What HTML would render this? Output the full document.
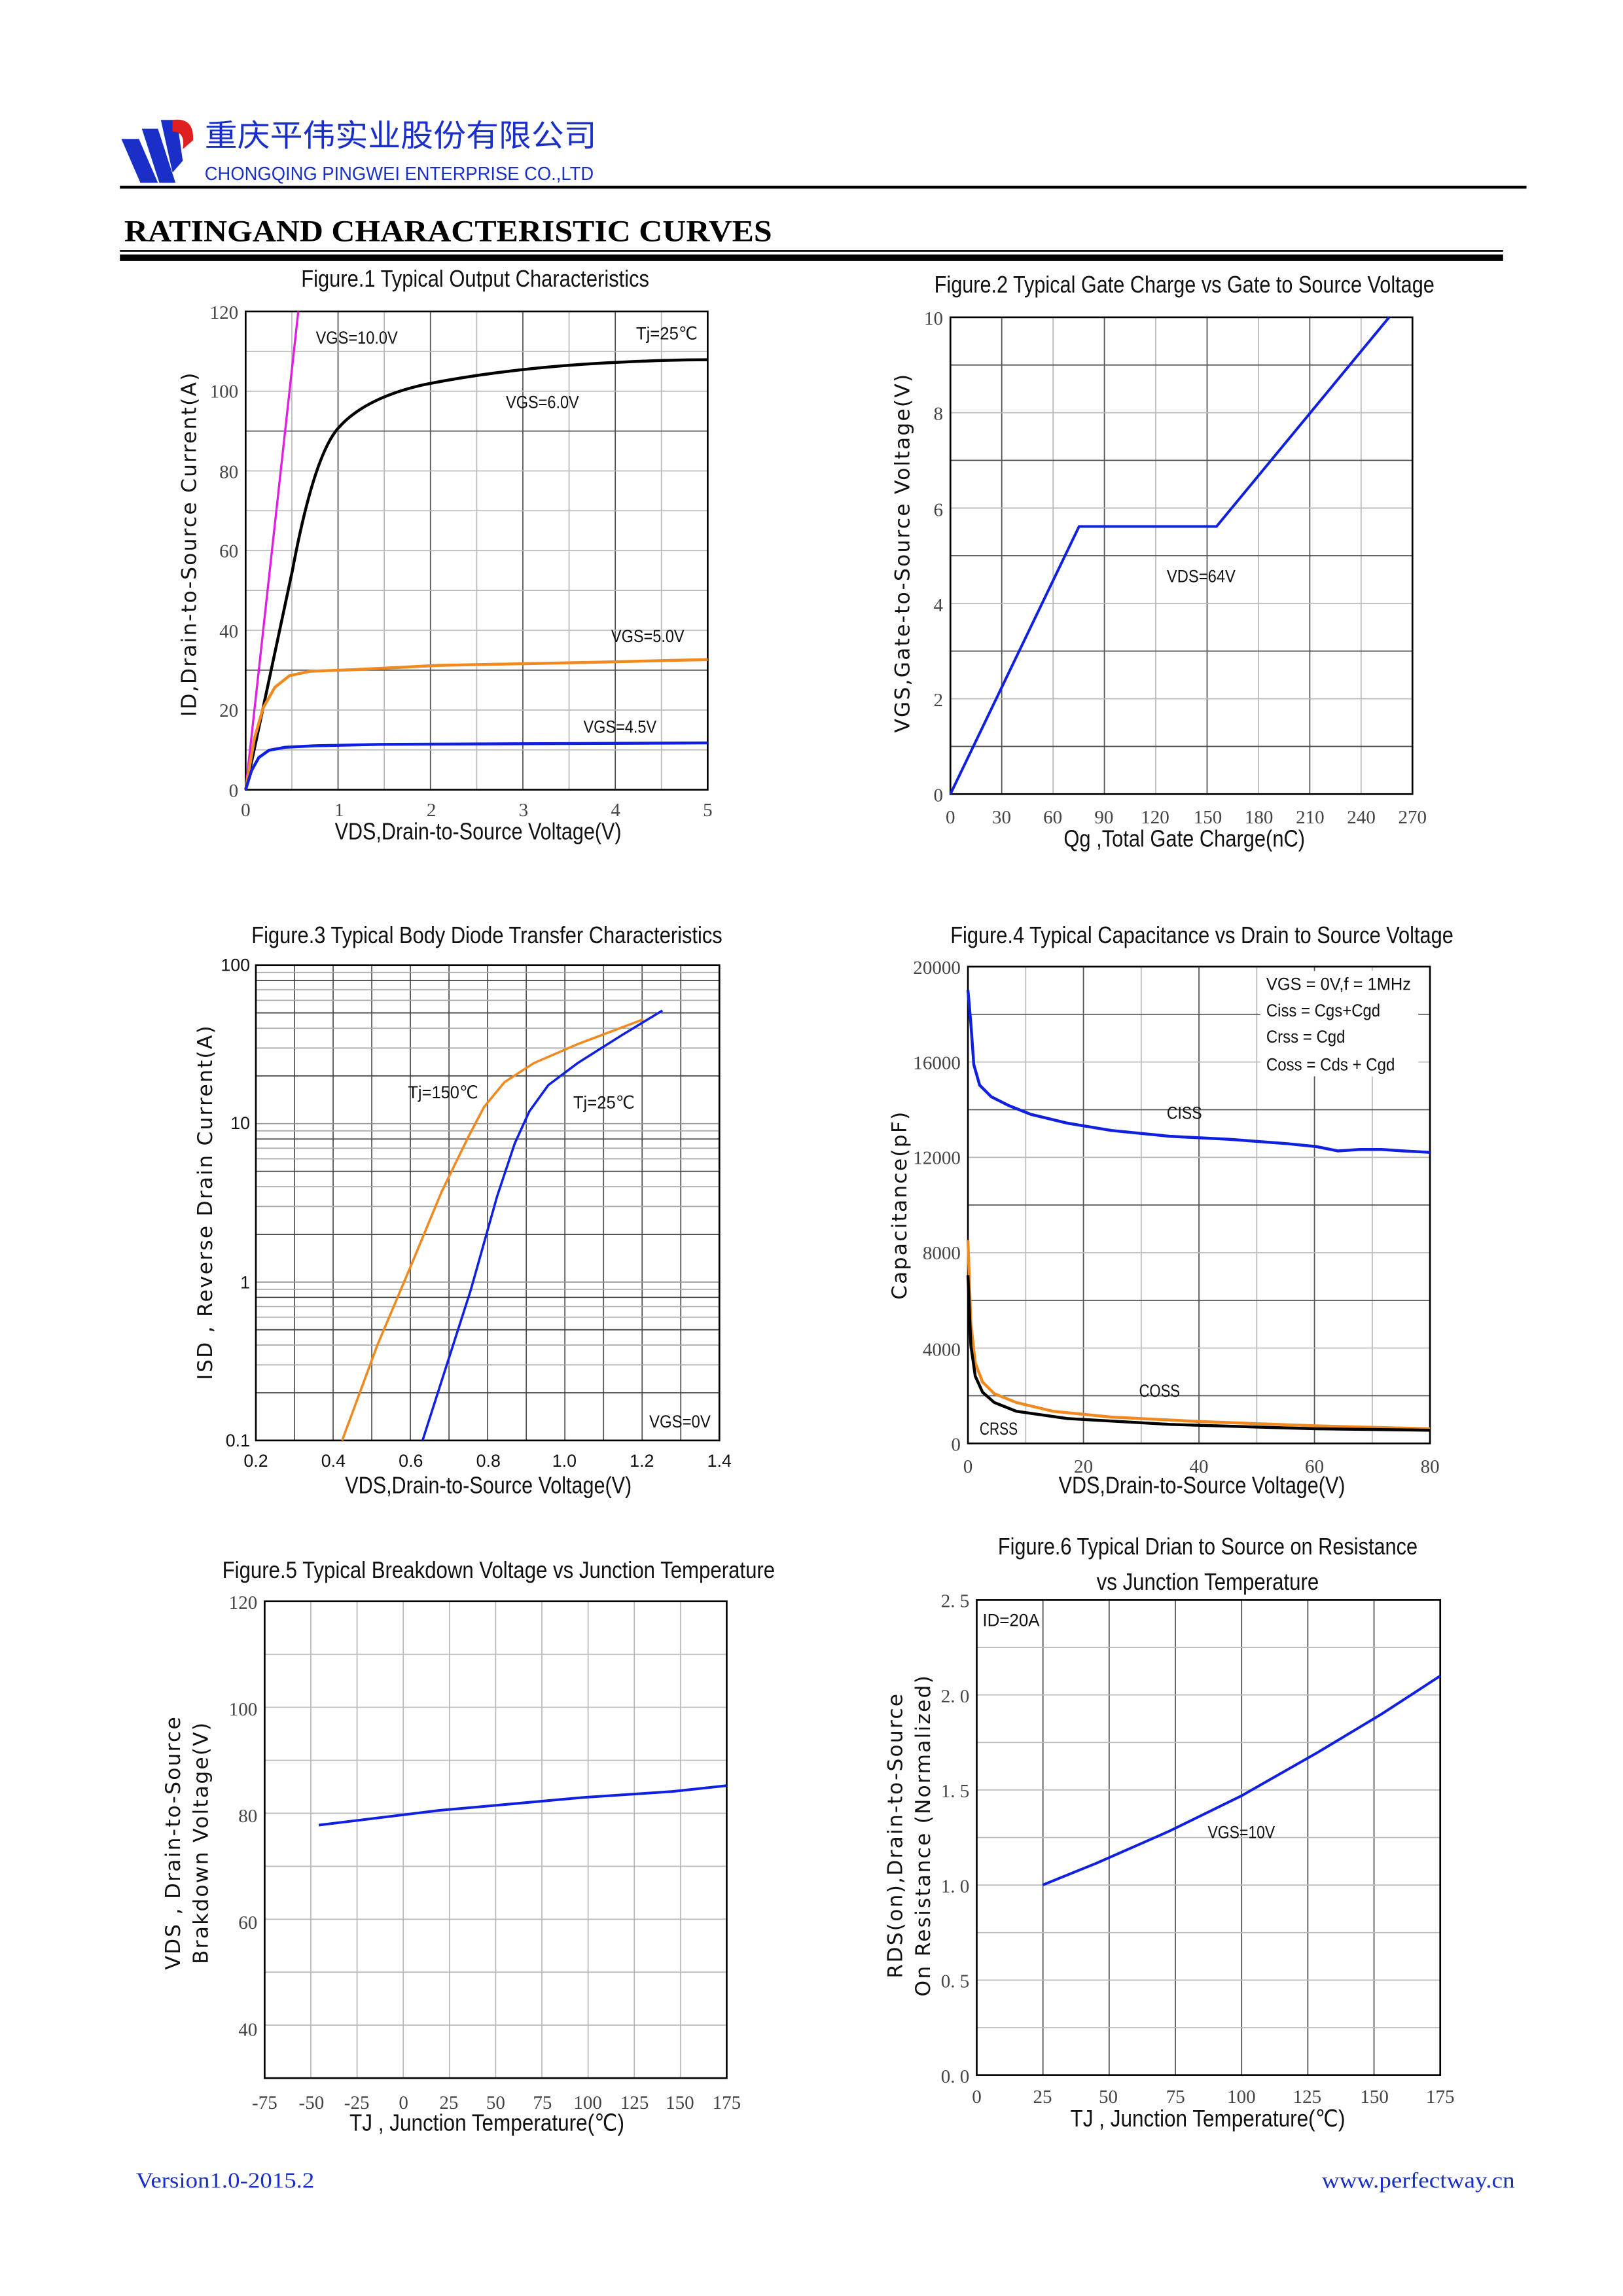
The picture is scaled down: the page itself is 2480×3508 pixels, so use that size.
<!DOCTYPE html>
<html><head><meta charset="utf-8"><style>
html,body{margin:0;padding:0;background:#fff}
svg{display:block}
.t{font-family:"Liberation Sans",sans-serif;fill:#111}
.s{font-family:"Liberation Serif",serif;fill:#444}
.a{font-family:"DejaVu Sans",sans-serif;fill:#111;letter-spacing:1px}
</style></head><body>
<svg id="s" width="2480" height="3508" viewBox="0 0 1110 1570" preserveAspectRatio="none" xmlns="http://www.w3.org/2000/svg">
<rect width="1110" height="1570" fill="#fff"/>
<!-- logo -->
<polygon points="83,95 95,95 108,125 96,125" fill="#1a2fc8"/>
<polygon points="97,88 108,88 120,125 109,125" fill="#1a2fc8"/>
<polygon points="110,82 121,82 125,110 118,118" fill="#1a2fc8"/>
<path d="M118,82 Q133,80 132,96 L125,102 Q127,90 118,90 Z" fill="#e02020"/>
<text x="140" y="100" font-family="'Noto Sans CJK SC',sans-serif" font-size="21" fill="#1a2fc8" textLength="268" lengthAdjust="spacingAndGlyphs">重庆平伟实业股份有限公司</text>
<text x="140" y="123" class="t" font-size="13" style="fill:#1a2fc8" textLength="266" lengthAdjust="spacingAndGlyphs">CHONGQING PINGWEI ENTERPRISE CO.,LTD</text>
<rect x="82" y="127" width="962" height="2" fill="#000"/>
<text x="85" y="165" font-family="'Liberation Serif',serif" font-weight="bold" font-size="21" fill="#000" textLength="443" lengthAdjust="spacingAndGlyphs">RATINGAND CHARACTERISTIC CURVES</text>
<rect x="82" y="171" width="946" height="1.2" fill="#000"/>
<rect x="82" y="174" width="946" height="4.5" fill="#000"/>
<g id="grids"></g>
<!-- Fig1 -->
<text x="325" y="196" class="t" font-size="16" text-anchor="middle" textLength="238" lengthAdjust="spacingAndGlyphs">Figure.1 Typical Output Characteristics</text>
<g class="s" font-size="13" text-anchor="end">
<text x="163" y="218">120</text><text x="163" y="272">100</text><text x="163" y="327">80</text><text x="163" y="381">60</text><text x="163" y="436">40</text><text x="163" y="490">20</text><text x="163" y="545">0</text></g>
<g class="s" font-size="13" text-anchor="middle">
<text x="168" y="558">0</text><text x="232" y="558">1</text><text x="295" y="558">2</text><text x="358" y="558">3</text><text x="421" y="558">4</text><text x="484" y="558">5</text></g>
<text x="327" y="574" class="t" font-size="16" text-anchor="middle" textLength="196" lengthAdjust="spacingAndGlyphs">VDS,Drain-to-Source Voltage(V)</text>
<text transform="translate(134,372) rotate(-90)" class="a" font-size="14" text-anchor="middle">ID,Drain-to-Source Current(A)</text>
<polyline points="168,540 204,213" fill="none" stroke="#e020e0" stroke-width="1.5"/>
<path d="M168,540 L200,390 Q215,310 232,292 Q250,272 290,263 Q340,253 400,249 Q450,246 484,246" fill="none" stroke="#000" stroke-width="2"/>
<polyline points="168,540 174,505 180,484 188,470 198,462 212,459 240,458 300,455 400,453 484,451" fill="none" stroke="#f08a20" stroke-width="2"/>
<polyline points="168,540 172,527 177,518 184,513 195,511 215,510 260,509 484,508" fill="none" stroke="#1020e0" stroke-width="2"/>
<g class="t" font-size="12">
<text x="216" y="235" textLength="56" lengthAdjust="spacingAndGlyphs">VGS=10.0V</text>
<text x="435" y="232" textLength="42" lengthAdjust="spacingAndGlyphs">Tj=25℃</text>
<text x="346" y="279" textLength="50" lengthAdjust="spacingAndGlyphs">VGS=6.0V</text>
<text x="418" y="439" textLength="50" lengthAdjust="spacingAndGlyphs">VGS=5.0V</text>
<text x="399" y="501" textLength="50" lengthAdjust="spacingAndGlyphs">VGS=4.5V</text></g>
<!-- Fig2 -->
<text x="810" y="200" class="t" font-size="16" text-anchor="middle" textLength="342" lengthAdjust="spacingAndGlyphs">Figure.2 Typical Gate Charge vs Gate to Source Voltage</text>
<g class="s" font-size="13" text-anchor="end">
<text x="645" y="222">10</text><text x="645" y="287">8</text><text x="645" y="353">6</text><text x="645" y="418">4</text><text x="645" y="483">2</text><text x="645" y="548">0</text></g>
<g class="s" font-size="13" text-anchor="middle">
<text x="650" y="563">0</text><text x="685" y="563">30</text><text x="720" y="563">60</text><text x="755" y="563">90</text><text x="790" y="563">120</text><text x="826" y="563">150</text><text x="861" y="563">180</text><text x="896" y="563">210</text><text x="931" y="563">240</text><text x="966" y="563">270</text></g>
<text x="810" y="579" class="t" font-size="16" text-anchor="middle" textLength="165" lengthAdjust="spacingAndGlyphs">Qg ,Total Gate Charge(nC)</text>
<text transform="translate(622,378) rotate(-90)" class="a" font-size="14" text-anchor="middle">VGS,Gate-to-Source Voltage(V)</text>
<polyline points="650,543 738,360 832,360 950,217" fill="none" stroke="#1020e0" stroke-width="1.8"/>
<text x="798" y="398" class="t" font-size="12" textLength="47" lengthAdjust="spacingAndGlyphs">VDS=64V</text>
<!-- Fig3 -->
<text x="333" y="645" class="t" font-size="16" text-anchor="middle" textLength="322" lengthAdjust="spacingAndGlyphs">Figure.3 Typical Body Diode Transfer Characteristics</text>
<g class="t" font-size="12" text-anchor="end">
<text x="171" y="664">100</text><text x="171" y="772">10</text><text x="171" y="881">1</text><text x="171" y="989">0.1</text></g>
<g class="t" font-size="12" text-anchor="middle">
<text x="175" y="1003">0.2</text><text x="228" y="1003">0.4</text><text x="281" y="1003">0.6</text><text x="334" y="1003">0.8</text><text x="386" y="1003">1.0</text><text x="439" y="1003">1.2</text><text x="492" y="1003">1.4</text></g>
<text x="334" y="1021" class="t" font-size="16" text-anchor="middle" textLength="196" lengthAdjust="spacingAndGlyphs">VDS,Drain-to-Source Voltage(V)</text>
<text transform="translate(145,822) rotate(-90)" class="a" font-size="14" text-anchor="middle" letter-spacing="2">ISD , Reverse Drain Current(A)</text>
<polyline points="234,985 258,920 280,868 302,815 320,778 331,757 345,740 365,727 395,714 440,697" fill="none" stroke="#f08a20" stroke-width="1.6"/>
<polyline points="289,985 305,935 322,882 340,818 352,782 362,760 375,742 395,727 425,708 453,691" fill="none" stroke="#1020e0" stroke-width="1.6"/>
<g class="t" font-size="12">
<text x="279" y="751" textLength="48" lengthAdjust="spacingAndGlyphs">Tj=150℃</text>
<text x="392" y="758" textLength="42" lengthAdjust="spacingAndGlyphs">Tj=25℃</text>
<text x="444" y="976" textLength="42" lengthAdjust="spacingAndGlyphs">VGS=0V</text></g>
<!-- Fig4 -->
<text x="822" y="645" class="t" font-size="16" text-anchor="middle" textLength="344" lengthAdjust="spacingAndGlyphs">Figure.4 Typical Capacitance vs Drain to Source Voltage</text>
<g class="s" font-size="13" text-anchor="end">
<text x="657" y="666">20000</text><text x="657" y="731">16000</text><text x="657" y="796">12000</text><text x="657" y="861">8000</text><text x="657" y="927">4000</text><text x="657" y="992">0</text></g>
<g class="s" font-size="13" text-anchor="middle">
<text x="662" y="1007">0</text><text x="741" y="1007">20</text><text x="820" y="1007">40</text><text x="899" y="1007">60</text><text x="978" y="1007">80</text></g>
<text x="822" y="1021" class="t" font-size="16" text-anchor="middle" textLength="196" lengthAdjust="spacingAndGlyphs">VDS,Drain-to-Source Voltage(V)</text>
<text transform="translate(620,824) rotate(-90)" class="a" font-size="14" text-anchor="middle" letter-spacing="2">Capacitance(pF)</text>
<polyline points="662,677 664,700 666,728 670,742 678,750 690,756 705,762 730,768 760,773 800,777 840,779 880,782 900,784 915,787 930,786 945,786 960,787 978,788" fill="none" stroke="#1020e0" stroke-width="2"/>
<polyline points="662,848 664,905 667,932 672,945 680,953 695,959 720,965 760,969 820,972 900,975 978,977" fill="none" stroke="#f08a20" stroke-width="2"/>
<polyline points="662,872 664,920 667,941 672,952 680,959 695,965 730,970 800,974 900,977 978,978" fill="none" stroke="#000" stroke-width="2"/>
<g class="t" font-size="12">
<rect x="862" y="664" width="108" height="72" fill="#fff"/>
<text x="866" y="677" textLength="99" lengthAdjust="spacingAndGlyphs">VGS  = 0V,f = 1MHz</text>
<text x="866" y="695" textLength="78" lengthAdjust="spacingAndGlyphs">Ciss = Cgs+Cgd</text>
<text x="866" y="713" textLength="54" lengthAdjust="spacingAndGlyphs">Crss = Cgd</text>
<text x="866" y="732" textLength="88" lengthAdjust="spacingAndGlyphs">Coss = Cds + Cgd</text>
<text x="798" y="765" textLength="24" lengthAdjust="spacingAndGlyphs">CISS</text>
<text x="779" y="955" textLength="28" lengthAdjust="spacingAndGlyphs">COSS</text>
<text x="670" y="981" textLength="26" lengthAdjust="spacingAndGlyphs">CRSS</text></g>
<!-- Fig5 -->
<text x="341" y="1079" class="t" font-size="16" text-anchor="middle" textLength="378" lengthAdjust="spacingAndGlyphs">Figure.5 Typical Breakdown Voltage vs Junction Temperature</text>
<g class="s" font-size="13" text-anchor="end">
<text x="176" y="1100">120</text><text x="176" y="1173">100</text><text x="176" y="1246">80</text><text x="176" y="1319">60</text><text x="176" y="1392">40</text></g>
<g class="s" font-size="13" text-anchor="middle">
<text x="181" y="1442">-75</text><text x="213" y="1442">-50</text><text x="244" y="1442">-25</text><text x="276" y="1442">0</text><text x="307" y="1442">25</text><text x="339" y="1442">50</text><text x="371" y="1442">75</text><text x="402" y="1442">100</text><text x="434" y="1442">125</text><text x="465" y="1442">150</text><text x="497" y="1442">175</text></g>
<text x="333" y="1457" class="t" font-size="16" text-anchor="middle" textLength="188" lengthAdjust="spacingAndGlyphs">TJ , Junction Temperature(℃)</text>
<text transform="translate(123,1260) rotate(-90)" class="a" font-size="14" text-anchor="middle">VDS , Drain-to-Source</text>
<text transform="translate(142,1260) rotate(-90)" class="a" font-size="14" text-anchor="middle">Brakdown Voltage(V)</text>
<polyline points="218,1248 300,1238 400,1229 460,1225 497,1221" fill="none" stroke="#1020e0" stroke-width="1.8"/>
<!-- Fig6 -->
<text x="826" y="1063" class="t" font-size="16" text-anchor="middle" textLength="287" lengthAdjust="spacingAndGlyphs">Figure.6 Typical Drian to Source on Resistance</text>
<text x="826" y="1087" class="t" font-size="16" text-anchor="middle" textLength="152" lengthAdjust="spacingAndGlyphs">vs Junction Temperature</text>
<g class="s" font-size="13" text-anchor="end">
<text x="663" y="1099">2. 5</text><text x="663" y="1164">2. 0</text><text x="663" y="1229">1. 5</text><text x="663" y="1294">1. 0</text><text x="663" y="1359">0. 5</text><text x="663" y="1424">0. 0</text></g>
<g class="s" font-size="13" text-anchor="middle">
<text x="668" y="1438">0</text><text x="713" y="1438">25</text><text x="758" y="1438">50</text><text x="804" y="1438">75</text><text x="849" y="1438">100</text><text x="894" y="1438">125</text><text x="940" y="1438">150</text><text x="985" y="1438">175</text></g>
<text x="826" y="1454" class="t" font-size="16" text-anchor="middle" textLength="188" lengthAdjust="spacingAndGlyphs">TJ , Junction Temperature(℃)</text>
<text transform="translate(617,1255) rotate(-90)" class="a" font-size="14" text-anchor="middle">RDS(on),Drain-to-Source</text>
<text transform="translate(636,1255) rotate(-90)" class="a" font-size="14" text-anchor="middle">On Resistance (Normalized)</text>
<polyline points="713,1289 750,1274 800,1252 849,1228 900,1199 945,1172 985,1146" fill="none" stroke="#1020e0" stroke-width="1.8"/>
<g class="t" font-size="12">
<text x="672" y="1112" textLength="39" lengthAdjust="spacingAndGlyphs">ID=20A</text>
<text x="826" y="1257" textLength="46" lengthAdjust="spacingAndGlyphs">VGS=10V</text></g>
<!-- footer -->
<text x="93" y="1496" font-family="'Liberation Serif',serif" font-size="15" fill="#1a2fc8" textLength="122" lengthAdjust="spacingAndGlyphs">Version1.0-2015.2</text>
<text x="904" y="1496" font-family="'Liberation Serif',serif" font-size="15" fill="#1a2fc8" textLength="132" lengthAdjust="spacingAndGlyphs">www.perfectway.cn</text>
</svg>
<script>
var g=document.getElementById('grids'),NS='http://www.w3.org/2000/svg';
function L(x1,y1,x2,y2,c,w){var l=document.createElementNS(NS,'line');l.setAttribute('x1',x1);l.setAttribute('y1',y1);l.setAttribute('x2',x2);l.setAttribute('y2',y2);l.setAttribute('stroke',c);l.setAttribute('stroke-width',w);g.appendChild(l);}
function box(x0,y0,x1,y1){var r=document.createElementNS(NS,'rect');r.setAttribute('x',x0);r.setAttribute('y',y0);r.setAttribute('width',x1-x0);r.setAttribute('height',y1-y0);r.setAttribute('fill','none');r.setAttribute('stroke','#000');r.setAttribute('stroke-width',1.2);g.appendChild(r);}
function grid(x0,y0,x1,y1,nx,ny,darkX,darkY){
 for(var i=1;i<nx;i++){var x=x0+(x1-x0)*i/nx;L(x,y0,x,y1,darkX&&darkX(i)?'#555':'#bbb',0.8);}
 for(var j=1;j<ny;j++){var y=y0+(y1-y0)*j/ny;L(x0,y,x1,y,darkY&&darkY(j)?'#555':'#bbb',0.8);}
 box(x0,y0,x1,y1);}
grid(168,213,484,540,10,12,function(i){return i%2==0},function(j){return j==3||j==9});
grid(650,217,966,543,9,10,function(i){return i%2==1},function(j){return j%2==1});
(function(){var x0=175,x1=492,y0=660,y1=985;for(var i=1;i<12;i++){var x=x0+(x1-x0)*i/12;L(x,y0,x,y1,'#555',0.8);}
for(var d=0;d<3;d++){for(var k=2;k<10;k++){var y=y1-(d+Math.log10(k))*(y1-y0)/3;L(x0,y,x1,y,(k==2||k==5||k==8)?'#444':'#aaa',0.8);}}
L(x0,y0+(y1-y0)/3,x1,y0+(y1-y0)/3,'#999',0.8);L(x0,y0+2*(y1-y0)/3,x1,y0+2*(y1-y0)/3,'#999',0.8);box(x0,y0,x1,y1);})();
grid(662,661,978,987,8,10,function(i){return i%2==0},function(j){return j%2==1});
grid(181,1095,497,1421,10,9,null,null);
grid(668,1094,985,1419,7,10,function(){return true},null);
</script>
</body></html>
